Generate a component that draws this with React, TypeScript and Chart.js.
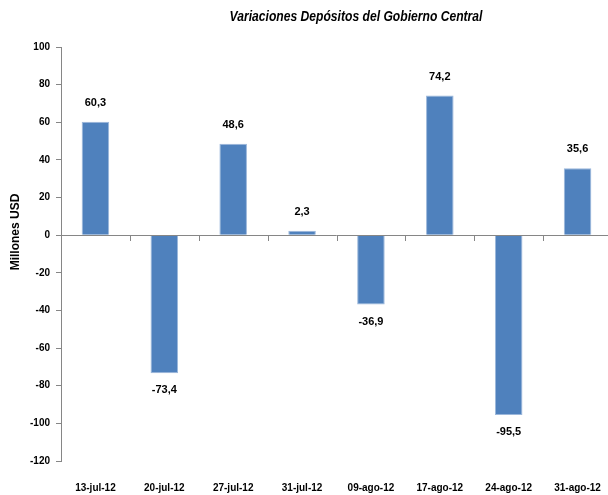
import React, { useEffect, useRef } from "react";
import { Chart, registerables } from "chart.js";

Chart.register(...registerables);

const categories = ["13-jul-12", "20-jul-12", "27-jul-12", "31-jul-12", "09-ago-12", "17-ago-12", "24-ago-12", "31-ago-12"];
const values = [60.3, -73.4, 48.6, 2.3, -36.9, 74.2, -95.5, 35.6];
const yMin = -120;
const yMax = 100;
const yStep = 20;
const titleText = "Variaciones Depósitos del Gobierno Central";
const yTitleText = "Millones USD";

const FONT = "'Liberation Sans', Arial, sans-serif";

const decorPlugin = {
  id: "decor",
  afterDatasetsDraw(chart: any) {
    const { ctx, chartArea, scales } = chart;
    const y = scales.y;
    const y0 = y.getPixelForValue(0);
    ctx.save();
    // zero line
    ctx.strokeStyle = "#868686";
    ctx.lineWidth = 1;
    ctx.beginPath();
    ctx.moveTo(chartArea.left, Math.round(y0) + 0.5);
    ctx.lineTo(chartArea.right, Math.round(y0) + 0.5);
    ctx.stroke();
    // category tick marks
    const n = categories.length;
    const w = (chartArea.right - chartArea.left) / n;
    for (let i = 1; i < n; i++) {
      const px = Math.round(chartArea.left + i * w) + 0.5;
      ctx.beginPath();
      ctx.moveTo(px, Math.round(y0));
      ctx.lineTo(px, Math.round(y0) + 6);
      ctx.stroke();
    }
    // data labels
    const meta = chart.getDatasetMeta(0);
    ctx.fillStyle = "#000";
    ctx.font = `bold 11px ${FONT}`;
    ctx.textAlign = "center";
    ctx.textBaseline = "middle";
    meta.data.forEach((bar: any, i: number) => {
      const v = values[i];
      const label = v.toFixed(1).replace(".", ",");
      const yy = v >= 0 ? bar.y - 19 : bar.y + 17;
      ctx.fillText(label, bar.x, yy);
    });
    // title (condensed rendering)
    ctx.save();
    ctx.translate(356, 17);
    ctx.scale(0.866, 1);
    ctx.font = `italic bold 14px ${FONT}`;
    ctx.fillText(titleText, 0, 0);
    ctx.restore();
    // y title
    ctx.translate(16, 232);
    ctx.rotate(-Math.PI / 2);
    ctx.font = `bold 12px ${FONT}`;
    ctx.fillText(yTitleText, 0, 0);
    ctx.restore();
  },
};

export default function App() {
  const ref = useRef<HTMLCanvasElement | null>(null);
  useEffect(() => {
    document.body.style.margin = "0";
    const canvas = ref.current!;
    const chart = new Chart(canvas, {
      type: "bar",
      data: {
        labels: categories,
        datasets: [
          {
            data: values,
            backgroundColor: "#4F81BD",
            borderColor: "#9BB7DB",
            borderWidth: 1,
            categoryPercentage: 1,
            barPercentage: 0.4,
          },
        ],
      },
      options: {
        responsive: false,
        animation: false,
        devicePixelRatio: 1,
        layout: { padding: { top: 47, left: 0, right: 4, bottom: 0 } },
        plugins: { legend: { display: false }, tooltip: { enabled: false }, title: { display: false } },
        scales: {
          x: {
            grid: { display: true, drawOnChartArea: false, drawTicks: true, tickLength: 17, color: "rgba(0,0,0,0)" },
            border: { display: false },
            ticks: {
              color: "#000",
              font: { family: FONT, size: 10, weight: "bold" },
              maxRotation: 0,
              autoSkip: false,
              padding: 4,
            },
            afterFit(scale: any) {
              scale.height = 34;
            },
          },
          y: {
            min: yMin,
            max: yMax,
            grid: { drawOnChartArea: false, tickLength: 5, color: "#868686" },
            border: { color: "#868686" },
            ticks: {
              stepSize: yStep,
              color: "#000",
              font: { family: FONT, size: 10, weight: "bold" },
              padding: 6,
            },
            afterFit(scale: any) {
              scale.width = 61;
            },
          },
        },
      },
      plugins: [decorPlugin],
    });
    return () => chart.destroy();
  }, []);
  return (
    <div style={{ position: "fixed", left: 0, top: 0, width: 608, height: 495, overflow: "hidden", background: "#fff" }}>
      <canvas ref={ref} width={616} height={495} style={{ width: 616, height: 495 }} />
    </div>
  );
}
